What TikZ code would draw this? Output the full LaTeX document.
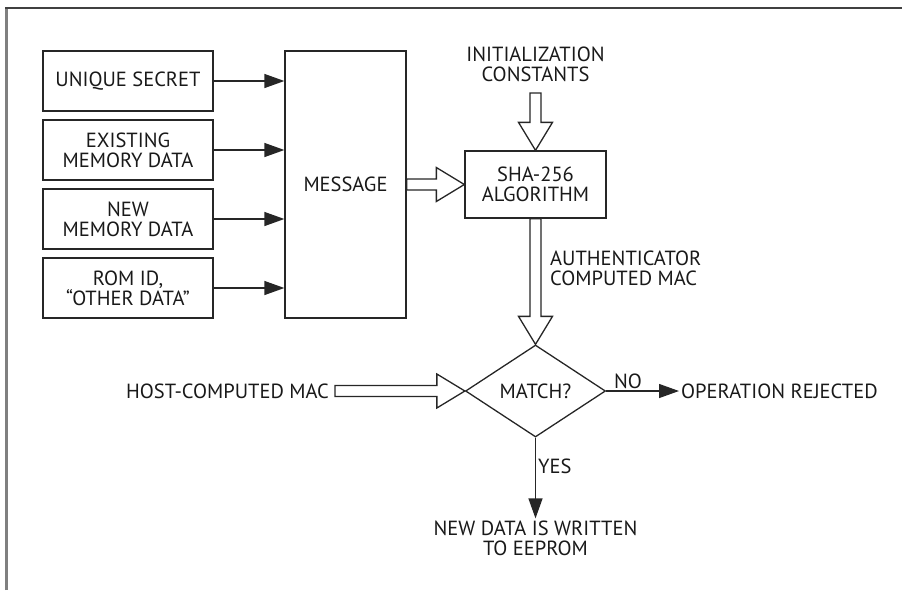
\documentclass[tikz,border=0pt]{standalone}
\usepackage{fontspec}
\setmainfont{PT Sans}
\usetikzlibrary{arrows.meta,shapes.geometric,calc}

\begin{document}
\begin{tikzpicture}[x=1pt, y=-1pt,
        txt/.style={font=\fontsize{20.5}{20}\selectfont, align=center, text=black!90, inner sep=2pt},
        box/.style={txt, rectangle, draw=black!85, line width=1.3pt, minimum width=170, minimum height=60},
        decision/.style={txt, diamond, draw=black!85, line width=1.3pt, aspect=1.5, inner sep=0pt, minimum width=140, minimum height=92},
        arrow/.style={-{Triangle[length=20pt, width=14pt]}, line width=1.3pt, draw=black!85},
        hollow/.style={draw=black!85, line width=1.3pt, fill=white,
            to path={let \p1=($(\tikztotarget)!28pt!(\tikztostart)$) in
                ($(\tikztostart)!5.5pt!90:(\tikztotarget)$) -- ($(\p1)!5.5pt!-90:(\tikztostart)$)
                -- ($(\p1)!17pt!-90:(\tikztostart)$) -- (\tikztotarget)
                -- ($(\p1)!17pt!90:(\tikztostart)$) -- ($(\p1)!5.5pt!90:(\tikztostart)$)
                -- ($(\tikztostart)!5.5pt!-90:(\tikztotarget)$) -- cycle}}
    ]
        \useasboundingbox (0,0) rectangle (902,590);
        % Frame
        \draw[black!50, line width=3pt] (6.5,590) -- (6.5,8);
        \draw[black!75, line width=2pt] (5,8) -- (902,8);

        % Message
        \node[box, minimum width=121, minimum height=267] (msg) at (345.5,184.5) {MESSAGE};

        % Inputs
        \foreach \i/\y/\txt in {1/81/{UNIQUE SECRET}, 2/150/{EXISTING\\MEMORY DATA},
                                3/219/{NEW\\MEMORY DATA}, 4/288/{ROM ID,\\“OTHER DATA”}} {
            \node[box] (in\i) at (128,\y) {\txt};
            \draw[arrow] (in\i.east) -- (in\i.east -| msg.west);
        }

        % SHA-256
        \node[box, minimum width=141, minimum height=67] (sha) at (535.5,184.5) {SHA-256\\ALGORITHM};
        \node[txt] (init) at (535.5,64.5) {INITIALIZATION\\CONSTANTS};
        \coordinate (initend) at (535.5,93);
        \draw[hollow] (initend) to (sha.north);
        \draw[hollow] (msg.east) to (sha.west);

        % Match
        \node[decision] (match) at (535.5,391) {MATCH?};
        \draw[hollow] (sha.south) to (match.north);
        \node[txt, anchor=west, align=left] (auth) at (548,268) {AUTHENTICATOR\\COMPUTED MAC};

        \node[txt, anchor=east, inner xsep=6pt] (host) at (335,391) {HOST-COMPUTED MAC};
        \draw[hollow] (host.east) to (match.west);

        % Results
        \node[txt, anchor=west] (rej) at (679,391) {OPERATION REJECTED};
        \draw[arrow] (match.east) -- (rej.west) node[txt, pos=0.3, above] {NO};

        \node[txt] (write) at (535.5,538) {NEW DATA IS WRITTEN\\TO EEPROM};
        \draw[arrow] (match.south) -- (write.north) node[txt, pos=0.35, right] {YES};
    \end{tikzpicture}
\end{document}
